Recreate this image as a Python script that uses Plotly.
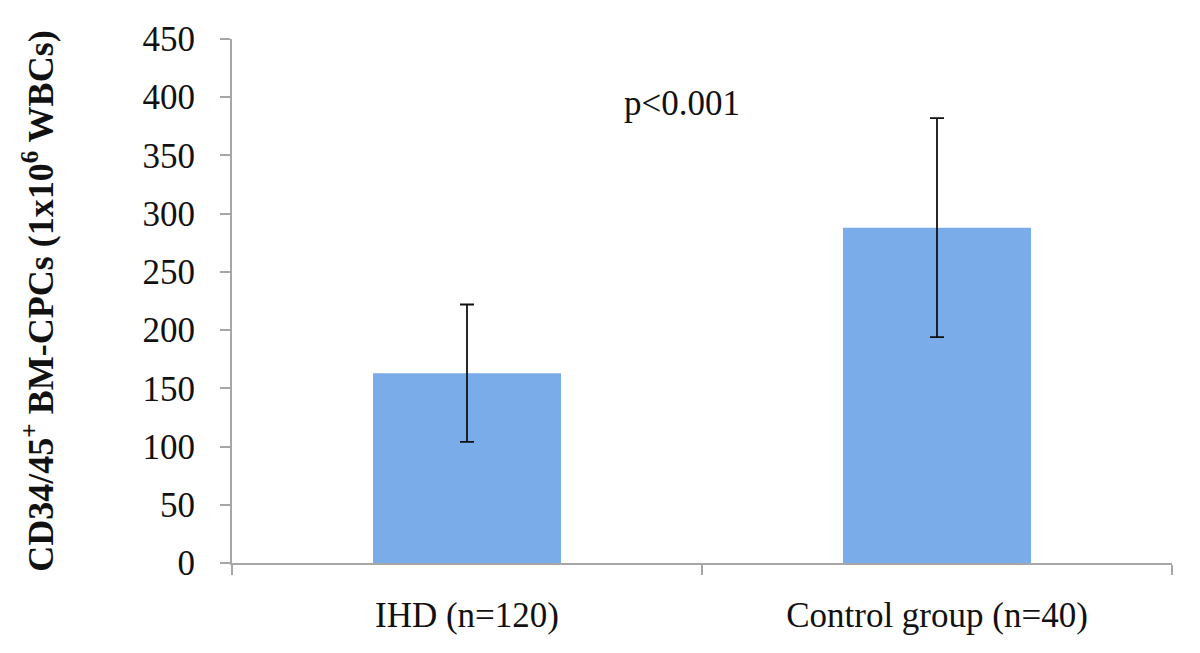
import plotly.graph_objects as go

categories = ["IHD (n=120)", "Control group (n=40)"]
means = [163, 288]
errors = [59, 94]
y_ticks = [0, 50, 100, 150, 200, 250, 300, 350, 400, 450]
p_label = "p<0.001"
p_y = 395

FONT = "Liberation Serif"

fig = go.Figure()
fig.add_trace(go.Bar(
    x=categories,
    y=means,
    width=0.4,
    marker=dict(color="#79ace8", line=dict(width=0)),
    error_y=dict(type="data", array=errors, visible=True,
                 color="#111111", thickness=1.8, width=7),
    showlegend=False,
))

fig.add_annotation(
    x=0.479, xref="paper", y=p_y, yref="y",
    text=p_label, showarrow=False,
    font=dict(family=FONT, size=35, color="#111111"),
)

fig.update_layout(
    width=1200, height=653,
    margin=dict(l=224, r=36, t=23, b=98),
    paper_bgcolor="white", plot_bgcolor="white",
    bargap=0.6,
)

fig.update_xaxes(
    showline=True, linecolor="#a6a6a6", linewidth=2,
    ticks="outside", tickson="boundaries", ticklen=10, tickwidth=2, tickcolor="#a6a6a6",
    tickfont=dict(family=FONT, size=35, color="#111111"),
    ticklabelstandoff=20,
    showgrid=False, zeroline=False,
)

fig.update_yaxes(
    range=[0, 450], tickvals=y_ticks,
    showline=True, linecolor="#a6a6a6", linewidth=2,
    ticks="outside", ticklen=10, tickwidth=2, tickcolor="#a6a6a6",
    tickfont=dict(family=FONT, size=35, color="#111111"),
    ticklabelstandoff=18,
    showgrid=False, zeroline=False,
    title=dict(text="<b>CD34/45<sup>+</sup> BM-CPCs (1x10<sup>6</sup> WBCs)</b>",
               font=dict(family=FONT, size=36, color="#111111"),
               standoff=78),
)

fig.write_html("out.html")
